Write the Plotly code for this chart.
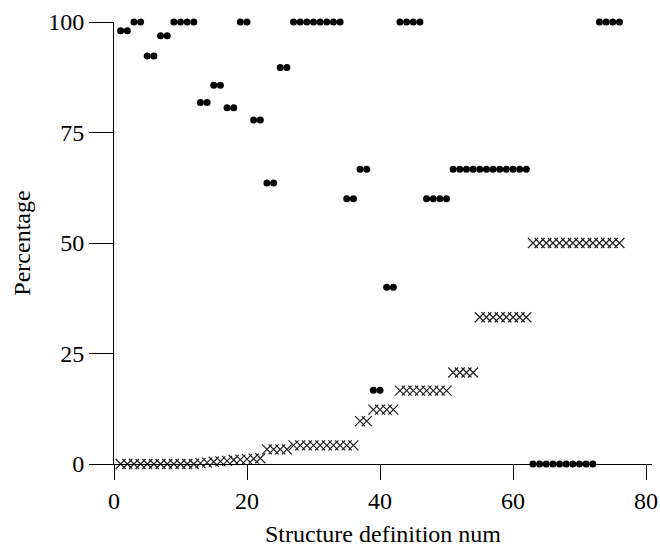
import plotly.graph_objects as go

# Dot series (percentage)
dot_x = list(range(1, 77))
dot_y = ([98, 98, 100, 100, 92.3, 92.3, 96.9, 96.9, 100, 100, 100, 100,
          81.8, 81.8, 85.7, 85.7, 80.6, 80.6, 100, 100, 77.8, 77.8,
          63.6, 63.6, 89.7, 89.7]
         + [100] * 8
         + [60, 60, 66.7, 66.7, 16.7, 16.7, 40, 40]
         + [100] * 4
         + [60] * 4
         + [66.7] * 12
         + [0] * 10
         + [100] * 4)

# Cross series (percentage)
cross_x = list(range(1, 77))
cross_y = ([0] * 12
           + [0.2, 0.3, 0.5, 0.6, 0.7, 0.9, 1.0, 1.1, 1.2, 1.3]
           + [3.3] * 4
           + [4.2] * 10
           + [9.7] * 2
           + [12.3] * 4
           + [16.6] * 8
           + [20.7] * 4
           + [33.2] * 8
           + [50] * 14)

x_ticks = [0, 20, 40, 60, 80]
y_ticks = [0, 25, 50, 75, 100]

FONT = "Liberation Serif, Times New Roman, serif"

fig = go.Figure()
fig.add_trace(go.Scatter(
    x=cross_x, y=cross_y, mode="markers",
    marker=dict(symbol="x-thin-open", size=10, color="#222",
                line=dict(color="#222", width=1.2)),
    cliponaxis=False, showlegend=False))
fig.add_trace(go.Scatter(
    x=dot_x, y=dot_y, mode="markers",
    marker=dict(symbol="circle", size=7, color="black", line=dict(width=0)),
    cliponaxis=False, showlegend=False))

fig.update_layout(
    width=660, height=549,
    margin=dict(l=114, r=8, t=22, b=85, autoexpand=False),
    paper_bgcolor="white", plot_bgcolor="white",
    font=dict(family=FONT, size=24, color="black"),
    xaxis=dict(range=[0, 80.9], tickvals=x_ticks, showgrid=False, zeroline=False,
               automargin=False,
               showline=True, linecolor="black", linewidth=1,
               ticks="outside", ticklen=15, tickcolor="black", tickwidth=1,
               tickfont=dict(family=FONT, size=24, color="black"),
               title=dict(text="Structure definition num",
                          font=dict(family=FONT, size=24, color="black"),
                          standoff=12)),
    yaxis=dict(range=[0, 100], tickvals=y_ticks, showgrid=False, zeroline=False,
               automargin=False,
               showline=True, linecolor="black", linewidth=1,
               ticks="outside", ticklen=24, tickcolor="black", tickwidth=1,
               tickfont=dict(family=FONT, size=24, color="black"),
               title=dict(text="Percentage",
                          font=dict(family=FONT, size=24, color="black"),
                          standoff=10)),
)

fig.write_html("out.html")
